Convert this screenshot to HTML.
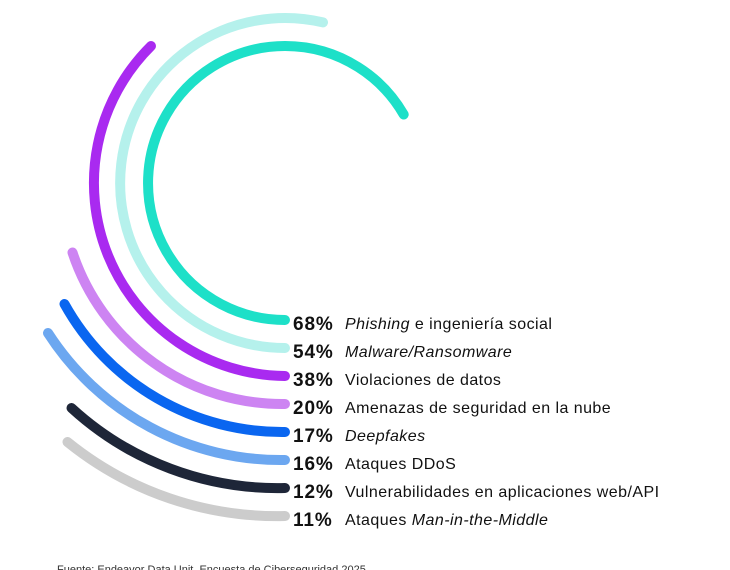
<!DOCTYPE html>
<html><head><meta charset="utf-8"><style>
body{margin:0;background:#fff;width:730px;height:570px;overflow:hidden;font-family:"Liberation Sans",sans-serif}
</style></head><body>
<svg width="730" height="570" xmlns="http://www.w3.org/2000/svg" style="position:absolute;left:0;top:0">
<g fill="none" stroke-width="10" stroke-linecap="round">
<path d="M285 320 A137 137 0 1 1 403.7 114.5" stroke="#1de0c8"/>
<path d="M285 348 A165 165 0 1 1 323.0 22.4" stroke="#b5f1ec"/>
<path d="M285 376 A193 193 0 0 1 151 46" stroke="#a92af0"/>
<path d="M285 404 A221 221 0 0 1 72.5 252.5" stroke="#cd84f2"/>
<path d="M285 432 A249 249 0 0 1 64.5 304" stroke="#0a66f0"/>
<path d="M285 460 A277 277 0 0 1 48 333" stroke="#6ca7f0"/>
<path d="M285 488 A305 305 0 0 1 71.5 408" stroke="#1e2638"/>
<path d="M285 516 A333 333 0 0 1 67.5 442" stroke="#cccccc"/>
</g>
<g font-family="Liberation Sans, sans-serif" fill="#111">
<g font-weight="bold" font-size="19" letter-spacing="0.9">
<text x="293" y="330">68%</text>
<text x="293" y="358">54%</text>
<text x="293" y="386">38%</text>
<text x="293" y="414">20%</text>
<text x="293" y="442">17%</text>
<text x="293" y="470">16%</text>
<text x="293" y="498">12%</text>
<text x="293" y="526">11%</text>
</g>
<g font-size="16" letter-spacing="0.45">
<text x="345" y="329"><tspan font-style="italic">Phishing</tspan> e ingeniería social</text>
<text x="345" y="357"><tspan font-style="italic">Malware/Ransomware</tspan></text>
<text x="345" y="385">Violaciones de datos</text>
<text x="345" y="413">Amenazas de seguridad en la nube</text>
<text x="345" y="441"><tspan font-style="italic">Deepfakes</tspan></text>
<text x="345" y="469">Ataques DDoS</text>
<text x="345" y="497">Vulnerabilidades en aplicaciones web/API</text>
<text x="345" y="525">Ataques <tspan font-style="italic">Man-in-the-Middle</tspan></text>
</g>
<text x="57" y="573" font-size="11" fill="#333">Fuente: Endeavor Data Unit, Encuesta de Ciberseguridad 2025</text>
</g>
</svg>
</body></html>
